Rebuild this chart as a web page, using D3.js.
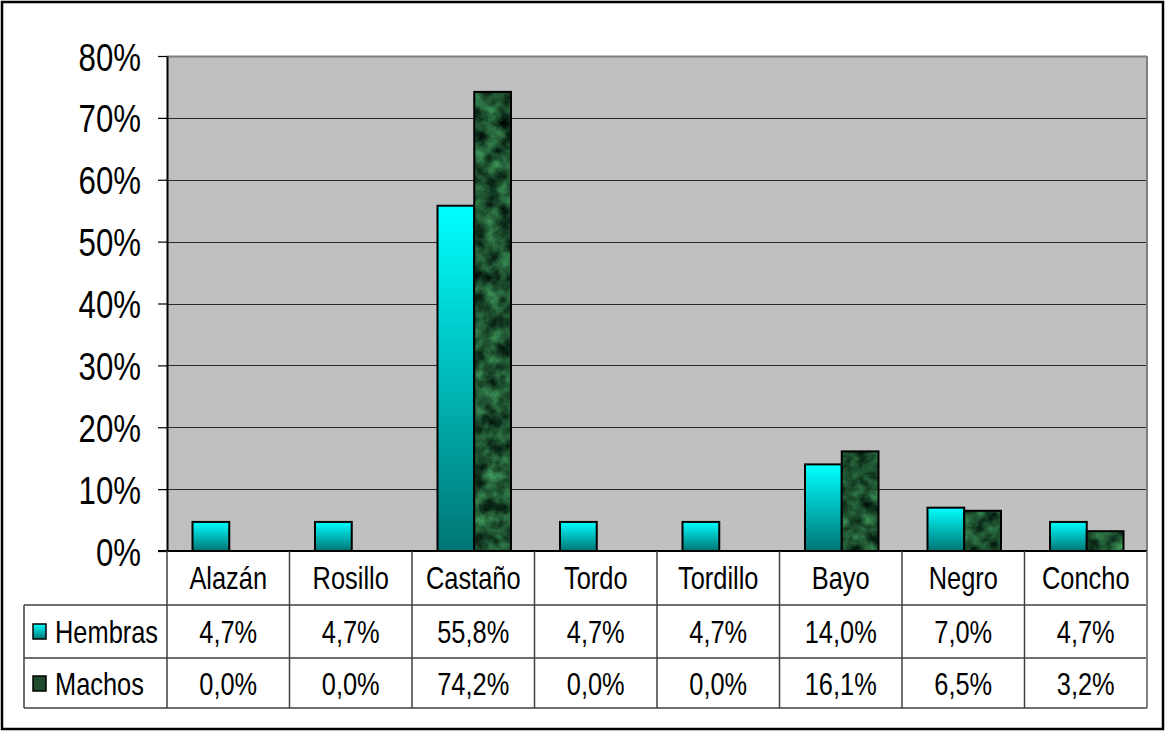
<!DOCTYPE html>
<html><head><meta charset="utf-8">
<script src="https://cdn.jsdelivr.net/npm/d3@7"></script>
<style>body{margin:0;background:#fff}svg{display:block;font-family:"Liberation Sans",Arial,sans-serif}</style>
</head><body>
<svg id="c" width="1165" height="731"></svg>
<script>
const categories = ["Alazán","Rosillo","Castaño","Tordo","Tordillo","Bayo","Negro","Concho"];
const seriesNames = ["Hembras","Machos"];
const hembras = [0.047,0.047,0.558,0.047,0.047,0.140,0.070,0.047];
const machos  = [0.000,0.000,0.742,0.000,0.000,0.161,0.065,0.032];
const hembrasLabels = ["4,7%","4,7%","55,8%","4,7%","4,7%","14,0%","7,0%","4,7%"];
const machosLabels  = ["0,0%","0,0%","74,2%","0,0%","0,0%","16,1%","6,5%","3,2%"];
const yTicks = [0,0.1,0.2,0.3,0.4,0.5,0.6,0.7,0.8];

const svg = d3.select("#c");
const defs = svg.append("defs");
const grad = defs.append("linearGradient").attr("id","cyan").attr("x1",0).attr("y1",0).attr("x2",0).attr("y2",1);
grad.append("stop").attr("offset","0").attr("stop-color","#00ffff");
grad.append("stop").attr("offset","1").attr("stop-color","#007474");
const f = defs.append("filter").attr("id","marble").attr("x",0).attr("y",0).attr("width",1).attr("height",1)
  .attr("color-interpolation-filters","sRGB");
f.append("feTurbulence").attr("type","fractalNoise").attr("baseFrequency","0.07").attr("numOctaves",4).attr("seed",7).attr("result","t");
f.append("feColorMatrix").attr("in","t").attr("type","matrix")
  .attr("values","0.35 0 0 0 -0.06  0.75 0 0 0 -0.06  0.45 0 0 0 -0.04  0 0 0 0 1").attr("result","c");
f.append("feComposite").attr("in","c").attr("in2","SourceGraphic").attr("operator","in");

const L = 167, R = 1147, T = 56, B = 551;
const y = d3.scaleLinear().domain([0,0.8]).range([B,T]);
const x0 = d3.scaleBand().domain(categories).range([L,R]);
const bw = x0.bandwidth();
const x1 = d3.scaleBand().domain(seriesNames).range([0.2*bw+1,0.8*bw+1]);

// outer border
svg.append("rect").attr("x",2).attr("y",2).attr("width",1161).attr("height",727)
  .attr("fill","#fff").attr("stroke","#000").attr("stroke-width",2.5);

// plot bg
svg.append("rect").attr("x",L).attr("y",T).attr("width",R-L).attr("height",B-T).attr("fill","#c0c0c0");

// gridlines
svg.append("g").selectAll("line").data(yTicks.filter(d=>d>0)).join("line")
  .attr("x1",L).attr("x2",R).attr("y1",d=>Math.round(y(d))+0.5).attr("y2",d=>Math.round(y(d))+0.5)
  .attr("stroke",d=>d===0.8?"#808080":"#2a2a2a").attr("stroke-width",d=>d===0.8?2:1.2);
svg.append("line").attr("x1",R).attr("x2",R).attr("y1",T).attr("y2",B).attr("stroke","#808080").attr("stroke-width",2);

// y axis
const ya = svg.append("g").attr("transform",`translate(${L},0)`)
  .call(d3.axisLeft(y).tickValues(yTicks).tickFormat(d3.format(".0%")).tickSize(9).tickSizeOuter(0));
ya.select(".domain").attr("stroke","#000").attr("stroke-width",2);
ya.selectAll(".tick line").attr("stroke","#000").attr("stroke-width",1.2);
const sx = 0.80;
ya.selectAll(".tick text").attr("font-size",39).attr("fill","#000")
  .attr("font-family","'Liberation Sans',Arial,sans-serif")
  .attr("x",-26/sx).attr("dy","0.36em").attr("transform",`scale(${sx},1)`);

// bars
const data = categories.map((c,i)=>({c, vals:[{s:"Hembras",v:hembras[i]},{s:"Machos",v:machos[i]}]}));
const g = svg.append("g");
data.forEach(d=>{
  d.vals.forEach(e=>{
    if(e.v<=0) return;
    const bx = x0(d.c)+x1(e.s), by = y(e.v), bh = y(0)-y(e.v), w = x1.bandwidth();
    if(e.s==="Hembras"){
      g.append("rect").attr("x",bx).attr("y",by).attr("width",w).attr("height",bh).attr("fill","url(#cyan)");
    } else {
      g.append("rect").attr("x",bx).attr("y",by).attr("width",w).attr("height",bh).attr("fill","#1a4d2e").attr("filter","url(#marble)");
    }
    g.append("rect").attr("x",bx).attr("y",by).attr("width",w).attr("height",bh).attr("fill","none").attr("stroke","#000").attr("stroke-width",2);
  });
});

// x axis line
svg.append("line").attr("x1",L-9).attr("x2",R).attr("y1",B).attr("y2",B).attr("stroke","#000").attr("stroke-width",2);

// data table
const tableLeft = 24;
const tg = svg.append("g");
const lineCol = "#404040";
[605,658,708].forEach(yy=>{
  tg.append("line").attr("x1",tableLeft).attr("x2",R).attr("y1",yy).attr("y2",yy).attr("stroke",lineCol).attr("stroke-width",1.5);
});
tg.append("line").attr("x1",tableLeft).attr("x2",tableLeft).attr("y1",605).attr("y2",708).attr("stroke",lineCol).attr("stroke-width",1.5);
categories.forEach(c=>{
  tg.append("line").attr("x1",x0(c)).attr("x2",x0(c)).attr("y1",B).attr("y2",708).attr("stroke",lineCol).attr("stroke-width",1.5);
});
tg.append("line").attr("x1",R).attr("x2",R).attr("y1",B).attr("y2",708).attr("stroke","#808080").attr("stroke-width",2);

const tsx = 0.82, fs = 31;
function cellText(cx, cy, txt, anchor){
  tg.append("text").attr("x",cx/tsx).attr("y",cy).attr("dy","0.36em")
    .attr("text-anchor",anchor||"middle").attr("font-size",fs).attr("fill","#000")
    .attr("transform",`scale(${tsx},1)`).text(txt);
}
const rowMid = [578, 632, 684];
categories.forEach((c,i)=>{
  const cx = x0(c)+bw/2;
  cellText(cx, rowMid[0], c);
  cellText(cx, rowMid[1], hembrasLabels[i]);
  cellText(cx, rowMid[2], machosLabels[i]);
});
// legend keys
tg.append("rect").attr("x",33).attr("y",rowMid[1]-8).attr("width",13).attr("height",15).attr("fill","url(#cyan)").attr("stroke","#000").attr("stroke-width",1.5);
tg.append("rect").attr("x",33).attr("y",rowMid[2]-8).attr("width",13).attr("height",15).attr("fill","#1f4a2c").attr("stroke","#000").attr("stroke-width",1.5);
cellText(55, rowMid[1], seriesNames[0], "start");
cellText(55, rowMid[2], seriesNames[1], "start");
</script>
</body></html>
